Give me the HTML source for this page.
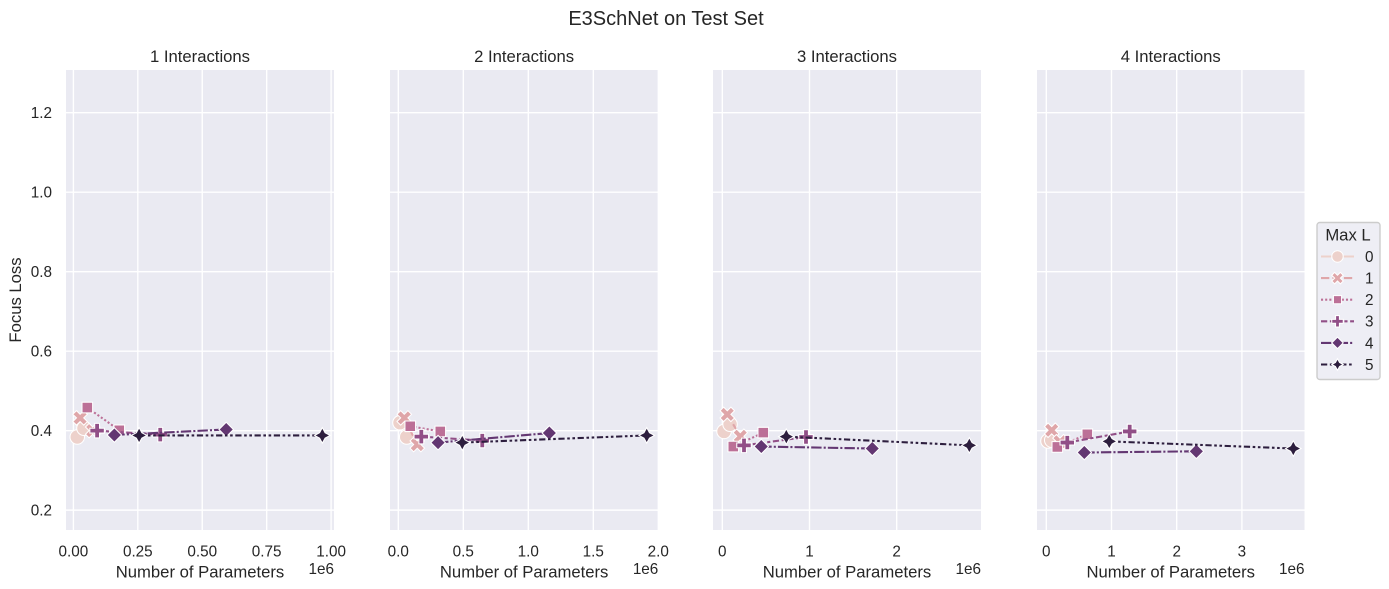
<!DOCTYPE html>
<html>
<head>
<meta charset="utf-8">
<title>E3SchNet on Test Set</title>
<style>
html,body{margin:0;padding:0;background:#fff;}
svg{display:block;}
text{font-family:"Liberation Sans",Arial,sans-serif;fill:#262626;}
</style>
</head>
<body>
<svg id="chart" xmlns="http://www.w3.org/2000/svg" width="1389" height="589" viewBox="0 0 1389 589"></svg>
<script>
const panelTitles = ["1 Interactions", "2 Interactions", "3 Interactions", "4 Interactions"];
const maxLValues = ["0", "1", "2", "3", "4", "5"];
const seriesColors = ["#edd1cb", "#dfa6a9", "#bc7097", "#914f87", "#633772", "#2d1e3e"];
const yTicks = [0.2, 0.4, 0.6, 0.8, 1.0, 1.2];
const yTickLabels = ["0.2", "0.4", "0.6", "0.8", "1.0", "1.2"];

const xTicks1 = [0, 0.25, 0.5, 0.75, 1.0];
const xTickLabels1 = ["0.00", "0.25", "0.50", "0.75", "1.00"];
const xTicks2 = [0, 0.5, 1.0, 1.5, 2.0];
const xTickLabels2 = ["0.0", "0.5", "1.0", "1.5", "2.0"];
const xTicks3 = [0, 1, 2];
const xTickLabels3 = ["0", "1", "2"];
const xTicks4 = [0, 1, 2, 3];
const xTickLabels4 = ["0", "1", "2", "3"];

// Parameters (in 1e6) per Max L, for each interactions panel
const params1 = [[0.015, 0.041], [0.026, 0.075], [0.054, 0.178], [0.092, 0.337], [0.159, 0.593], [0.255, 0.966]];
const params2 = [[0.013, 0.065], [0.046, 0.146], [0.092, 0.323], [0.177, 0.646], [0.306, 1.162], [0.492, 1.911]];
const params3 = [[0.020, 0.089], [0.057, 0.206], [0.126, 0.470], [0.249, 0.960], [0.447, 1.720], [0.734, 2.833]];
const params4 = [[0.026, 0.083], [0.083, 0.210], [0.169, 0.629], [0.322, 1.279], [0.583, 2.301], [0.966, 3.788]];

// Focus loss per Max L, for each interactions panel
const loss1 = [[0.384, 0.406], [0.432, 0.400], [0.458, 0.401], [0.400, 0.390], [0.389, 0.403], [0.388, 0.388]];
const loss2 = [[0.420, 0.384], [0.432, 0.365], [0.411, 0.398], [0.385, 0.375], [0.370, 0.394], [0.370, 0.388]];
const loss3 = [[0.398, 0.416], [0.441, 0.386], [0.360, 0.395], [0.363, 0.384], [0.360, 0.355], [0.385, 0.363]];
const loss4 = [[0.374, 0.376], [0.401, 0.372], [0.359, 0.391], [0.370, 0.398], [0.345, 0.348], [0.373, 0.355]];

const NS = "http://www.w3.org/2000/svg";
const svg = document.getElementById("chart");
const LW = 2.08;
const dashPatterns = ["", "4 1.5", "1 1", "3 1.25 1.5 1.25", "5 1 1 1", "3 1.25 1.25 1.25 1.25 1.25"];
const markerKinds = ["circle", "x", "square", "plus", "diamond", "star"];
const PLOT_TOP = 70, PLOT_BOTTOM = 530;
const Y_MIN = 0.15, Y_MAX = 1.3075;

function yScale(v) {
  return PLOT_BOTTOM - (v - Y_MIN) / (Y_MAX - Y_MIN) * (PLOT_BOTTOM - PLOT_TOP);
}
function makeXScale(left, right, dMin, dMax) {
  return function (v) { return left + (v - dMin) / (dMax - dMin) * (right - left); };
}
function el(tag, attrs, parent) {
  const e = document.createElementNS(NS, tag);
  for (const k in attrs) e.setAttribute(k, attrs[k]);
  (parent || svg).appendChild(e);
  return e;
}
function txt(content, attrs, parent) {
  const t = el("text", attrs, parent);
  t.textContent = content;
  return t;
}
function markerPoints(kind, ms) {
  let pts, s;
  if (kind === "x") {
    s = ms / 4;
    pts = [[-1,-2],[0,-1],[1,-2],[2,-1],[1,0],[2,1],[1,2],[0,1],[-1,2],[-2,1],[-1,0],[-2,-1]];
  } else if (kind === "plus") {
    s = ms / 6;
    pts = [[-1,-3],[1,-3],[1,-1],[3,-1],[3,1],[1,1],[1,3],[-1,3],[-1,1],[-3,1],[-3,-1],[-1,-1]];
  } else if (kind === "square") {
    s = ms / 2 * Math.SQRT1_2;
    pts = [[-1,-1],[1,-1],[1,1],[-1,1]];
  } else if (kind === "diamond") {
    s = ms / 2;
    pts = [[0,-1],[1,0],[0,1],[-1,0]];
  } else {
    s = ms / 2;
    const r = 0.5 * Math.SQRT1_2;
    pts = [[0,-1],[r,-r],[1,0],[r,r],[0,1],[-r,r],[-1,0],[-r,-r]];
  }
  return pts.map(function (p) { return [p[0] * s, p[1] * s]; });
}
function drawMarker(parent, kind, cx, cy, ms, color) {
  let m;
  if (kind === "circle") {
    m = el("circle", { cx: cx, cy: cy, r: ms / 2 }, parent);
  } else {
    const pts = markerPoints(kind, ms).map(function (p) {
      return (cx + p[0]).toFixed(2) + "," + (cy + p[1]).toFixed(2);
    }).join(" ");
    m = el("polygon", { points: pts }, parent);
  }
  m.setAttribute("fill", color);
  m.setAttribute("stroke", "#ffffff");
  m.setAttribute("stroke-width", "1.04");
  
  
  return m;
}
function dashArray(i) {
  if (!dashPatterns[i]) return null;
  return dashPatterns[i].split(" ").map(function (d) { return (parseFloat(d) * LW).toFixed(2); }).join(" ");
}

const panels = [
  { left: 66, right: 334, dMin: -0.0287, dMax: 1.0113, ticks: xTicks1, labels: xTickLabels1, xs: params1, ys: loss1 },
  { left: 390, right: 658.3, dMin: -0.0638, dMax: 2.0, ticks: xTicks2, labels: xTickLabels2, xs: params2, ys: loss2 },
  { left: 713, right: 981, dMin: -0.1067, dMax: 2.967, ticks: xTicks3, labels: xTickLabels3, xs: params3, ys: loss3 },
  { left: 1037, right: 1304.5, dMin: -0.1426, dMax: 3.96, ticks: xTicks4, labels: xTickLabels4, xs: params4, ys: loss4 }
];

const suptitle = txt("E3SchNet on Test Set", { x: 666, y: 25, "text-anchor": "middle", "font-size": "20" });



const yAxisTitle = txt("Focus Loss", { x: 0, y: 0, "text-anchor": "middle", "font-size": "16.67", transform: "translate(21,300) rotate(-90)" });



yTicks.forEach(function (v, i) {
  const t = txt(yTickLabels[i], { x: 52, y: yScale(v) + 5.4, "text-anchor": "end", "font-size": "15.28" });
  
  
});

panels.forEach(function (p, pi) {
  const x = makeXScale(p.left, p.right, p.dMin, p.dMax);
  const g = el("g", {});
  
  

  const bg = el("rect", { x: p.left, y: PLOT_TOP, width: p.right - p.left, height: PLOT_BOTTOM - PLOT_TOP, fill: "#eaeaf2" }, g);
  
  

  yTicks.forEach(function (v) {
    const l = el("line", { x1: p.left, x2: p.right, y1: yScale(v), y2: yScale(v), stroke: "#fff", "stroke-width": "1.39" }, g);
    
    
  });
  p.ticks.forEach(function (v, i) {
    const l = el("line", { x1: x(v), x2: x(v), y1: PLOT_TOP, y2: PLOT_BOTTOM, stroke: "#fff", "stroke-width": "1.39" }, g);
    
    
    const t = txt(p.labels[i], { x: x(v), y: 556.5, "text-anchor": "middle", "font-size": "15.28" }, g);
    
    
  });

  maxLValues.forEach(function (name, si) {
    const sg = el("g", {}, g);
    
    
    const pts = p.xs[si].map(function (v, k) { return [x(v), yScale(p.ys[si][k])]; });
    const line = el("polyline", {
      points: pts.map(function (q) { return q[0].toFixed(2) + "," + q[1].toFixed(2); }).join(" "),
      fill: "none", stroke: seriesColors[si], "stroke-width": LW
    }, sg);
    const da = dashArray(si);
    if (da) line.setAttribute("stroke-dasharray", da);
    
    
    pts.forEach(function (q) {
      const size = markerKinds[si] === "square" ? 15 : (markerKinds[si] === "star" ? 15.5 : 14.5);
      drawMarker(sg, markerKinds[si], q[0], q[1], size, seriesColors[si]);
    });
  });

  const title = txt(panelTitles[pi], { x: (p.left + p.right) / 2, y: 62, "text-anchor": "middle", "font-size": "16.67" }, g);
  
  

  const xl = txt("Number of Parameters", { x: (p.left + p.right) / 2, y: 577.5, "text-anchor": "middle", "font-size": "16.67" }, g);
  
  

  const off = txt("1e6", { x: p.right, y: 574, "text-anchor": "end", "font-size": "15.28" }, g);
  
  
});

const legend = el("g", {});


const legendBox = el("rect", { x: 1317, y: 222.5, width: 63, height: 157, rx: 2.8, fill: "#eaeaf2", "fill-opacity": "0.8", stroke: "#cccccc", "stroke-width": "1.39" }, legend);


const legendTitle = txt("Max L", { x: 1348, y: 240.5, "text-anchor": "middle", "font-size": "16.67" }, legend);


maxLValues.forEach(function (name, i) {
  const cy = 256.5 + i * 21.6;
  const e = el("g", {}, legend);
  
  
  const l = el("line", { x1: 1321, x2: 1354, y1: cy, y2: cy, stroke: seriesColors[i], "stroke-width": LW }, e);
  const da = dashArray(i);
  if (da) l.setAttribute("stroke-dasharray", da);
  
  
  drawMarker(e, markerKinds[i], 1337.5, cy, 11.5, seriesColors[i]);
  const t = txt(name, { x: 1365, y: cy + 5.4, "font-size": "15.28" }, e);
  
  
});
</script>
</body>
</html>
